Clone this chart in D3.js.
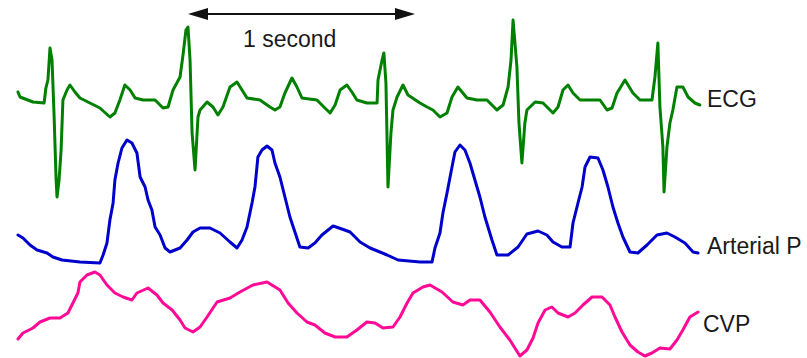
<!DOCTYPE html>
<html>
<head>
<meta charset="utf-8">
<script src="https://cdn.jsdelivr.net/npm/d3@7"></script>
<style>
  body { margin: 0; background: #fff; }
  svg { display: block; }
  .label { font-family: "Liberation Sans", Arial, sans-serif; font-size: 23px; fill: #1a1a1a; }
</style>
</head>
<body>
<script>
// time in ms (0 = R wave under the left arrow tip), value in trace units
var ecg = [[-749,0.16],[-740,0.06],[-683,-0.04],[-634,-0.06],[-626,0.24],[-617,0.40],[-608,1.04],[-599,0.80],[-590,-0.30],[-581,-1.60],[-577,-1.94],[-568,-1.60],[-559,-1.00],[-551,0],[-533,0.20],[-520,0.30],[-498,0.16],[-476,0.04],[-432,-0.06],[-388,-0.16],[-344,-0.34],[-322,-0.26],[-300,0],[-278,0.30],[-255,0.20],[-233,0.04],[-198,0],[-145,0],[-110,-0.16],[-88,-0.14],[-66,0.20],[-35,0.46],[-22,0.90],[-9,1.40],[0,1.46],[9,0.80],[18,-0.66],[31,-1.40],[44,-0.34],[53,-0.20],[84,-0.04],[110,-0.14],[132,-0.30],[154,-0.14],[185,0.26],[216,0.36],[238,0.20],[260,0.04],[317,0],[361,-0.14],[383,-0.20],[405,-0.14],[427,0.14],[458,0.44],[480,0.26],[502,0.04],[568,0],[603,-0.16],[626,-0.26],[648,-0.10],[670,0.20],[700,0.30],[722,0.16],[744,0],[788,-0.06],[833,-0.06],[837,0.40],[855,0.80],[863,0.94],[872,0.34],[881,-1.74],[894,-0.66],[903,-0.20],[921,0.06],[947,0.30],[969,0.10],[1022,-0.06],[1053,-0.14],[1079,-0.20],[1110,-0.34],[1141,-0.26],[1163,0.06],[1189,0.26],[1229,0.04],[1273,0],[1317,0],[1361,-0.20],[1388,-0.10],[1410,0.26],[1423,0.80],[1432,1.60],[1449,0.66],[1458,-0.46],[1471,-1.26],[1484,-0.46],[1493,-0.20],[1529,-0.04],[1564,-0.06],[1608,-0.26],[1630,-0.14],[1652,0.20],[1674,0.30],[1696,0.14],[1727,0],[1815,0],[1846,-0.20],[1868,-0.16],[1890,0.14],[1925,0.40],[1960,0.14],[1991,0],[2044,0],[2057,0.46],[2070,1.14],[2079,-0.14],[2092,-0.94],[2097,-1.84],[2110,-0.94],[2123,-0.46],[2136,-0.20],[2154,0.26],[2180,0.26],[2203,0.06],[2233,-0.06],[2255,-0.10]];

var arterial = [[-749,74],[-727,72.5],[-696,69],[-665,66.5],[-621,65],[-595,63],[-555,61.5],[-476,60.5],[-388,60],[-374,64],[-357,70],[-344,81.5],[-330,90],[-322,101.5],[-308,110],[-291,117.5],[-269,121.5],[-247,120],[-225,115],[-211,103],[-189,98],[-176,91.5],[-159,86.5],[-145,78],[-123,74],[-101,67.5],[-79,65.5],[-35,67.5],[-4,71.5],[22,75.5],[53,77.5],[97,77.5],[141,75],[185,70.5],[216,67.5],[238,71.5],[260,78],[282,90],[295,98],[308,113],[326,116.5],[348,118.5],[370,116.5],[383,110],[405,103],[427,93],[449,83],[471,75.5],[493,68],[529,67.5],[559,70],[590,74],[639,78.5],[678,77],[714,75.5],[758,70.5],[802,67.5],[877,64],[925,61.5],[1022,60.5],[1075,60.5],[1088,67.5],[1110,75],[1123,85],[1141,95],[1163,108],[1176,115.5],[1198,119],[1220,116.5],[1242,110],[1264,101.5],[1286,93],[1308,83],[1339,71.5],[1361,64],[1410,64],[1454,68],[1493,74.5],[1542,76],[1581,74],[1608,70.5],[1647,68],[1683,68],[1696,80],[1718,90],[1736,98],[1749,108],[1771,113],[1806,112.5],[1828,106.5],[1850,98],[1872,88],[1894,80],[1916,73],[1947,65.5],[1982,65],[2022,69],[2066,74],[2110,75],[2145,73],[2189,70],[2225,65.5],[2247,65]];

var cvp = [[-749,2.1],[-727,2.7],[-683,3.2],[-652,3.8],[-608,4.2],[-564,4.2],[-529,4.7],[-507,5.7],[-485,6.7],[-476,7.8],[-445,8.5],[-410,8.8],[-388,8.5],[-357,7.5],[-322,6.7],[-286,6.3],[-247,6.0],[-225,6.7],[-176,7.2],[-137,6.5],[-110,5.7],[-70,5.0],[-35,4.0],[-13,3.2],[22,2.8],[53,3.3],[84,4.3],[128,5.8],[185,6.2],[229,6.8],[286,7.5],[348,7.8],[405,7.0],[441,5.7],[480,4.7],[524,3.8],[559,3.5],[603,2.7],[648,2.3],[700,2.3],[744,3.0],[788,3.8],[824,3.7],[859,3.2],[903,3.3],[934,4.3],[965,5.7],[991,6.7],[1035,7.3],[1066,7.5],[1119,6.8],[1167,5.8],[1211,5.5],[1242,6.0],[1286,6.0],[1330,4.8],[1374,3.3],[1418,2.0],[1462,0.4],[1493,1.0],[1520,2.2],[1542,3.7],[1573,5.0],[1603,5.3],[1630,4.7],[1674,4.3],[1705,4.7],[1740,5.5],[1780,6.3],[1824,6.3],[1859,5.5],[1881,4.3],[1912,2.8],[1947,1.5],[1982,0.8],[2013,0.4],[2044,0.7],[2079,1.2],[2123,1.1],[2154,2.0],[2180,3.0],[2211,4.3],[2247,4.8]];

var traceNames = ["ECG", "Arterial P", "CVP"];
var traceColors = ["#008000", "#0000cc", "#ff0a96"];
var scaleBar = [0, 1000];          // ms
var scaleBarLabel = "1 second";

var width = 807, height = 358;

var x = d3.scaleLinear().domain([0, 1000]).range([188, 415]);
var yEcg = d3.scaleLinear().domain([0, 1]).range([100, 50]);
var yArt = d3.scaleLinear().domain([60, 120]).range([263, 143]);
var yCvp = d3.scaleLinear().domain([0, 10]).range([360, 260]);

var svg = d3.select("body").append("svg")
    .attr("width", width)
    .attr("height", height);

var traces = [
  {data: ecg, y: yEcg, labelX: 707, labelY: 107},
  {data: arterial, y: yArt, labelX: 707, labelY: 254},
  {data: cvp, y: yCvp, labelX: 703, labelY: 332}
];

traces.forEach(function(tr, i) {
  var line = d3.line()
      .x(function(d) { return x(d[0]); })
      .y(function(d) { return tr.y(d[1]); });

  svg.append("path")
      .datum(tr.data)
      .attr("d", line)
      .attr("fill", "none")
      .attr("stroke", traceColors[i])
      .attr("stroke-width", 3)
      .attr("stroke-linejoin", "round")
      .attr("stroke-linecap", "round");

  svg.append("text")
      .attr("class", "label")
      .attr("x", tr.labelX)
      .attr("y", tr.labelY)
      .text(traceNames[i]);
});

// 1 second scale arrow
var arrowY = 14;
var x0 = x(scaleBar[0]), x1 = x(scaleBar[1]);

svg.append("line")
    .attr("x1", x0 + 10).attr("x2", x1 - 10)
    .attr("y1", arrowY).attr("y2", arrowY)
    .attr("stroke", "#111")
    .attr("stroke-width", 2);

svg.append("path")
    .attr("d", "M" + x0 + "," + arrowY + "L" + (x0 + 20) + "," + (arrowY - 6) + "L" + (x0 + 20) + "," + (arrowY + 6) + "Z")
    .attr("fill", "#111");

svg.append("path")
    .attr("d", "M" + x1 + "," + arrowY + "L" + (x1 - 20) + "," + (arrowY - 6) + "L" + (x1 - 20) + "," + (arrowY + 6) + "Z")
    .attr("fill", "#111");

svg.append("text")
    .attr("class", "label")
    .attr("x", 243)
    .attr("y", 47)
    .text(scaleBarLabel);
</script>
</body>
</html>
